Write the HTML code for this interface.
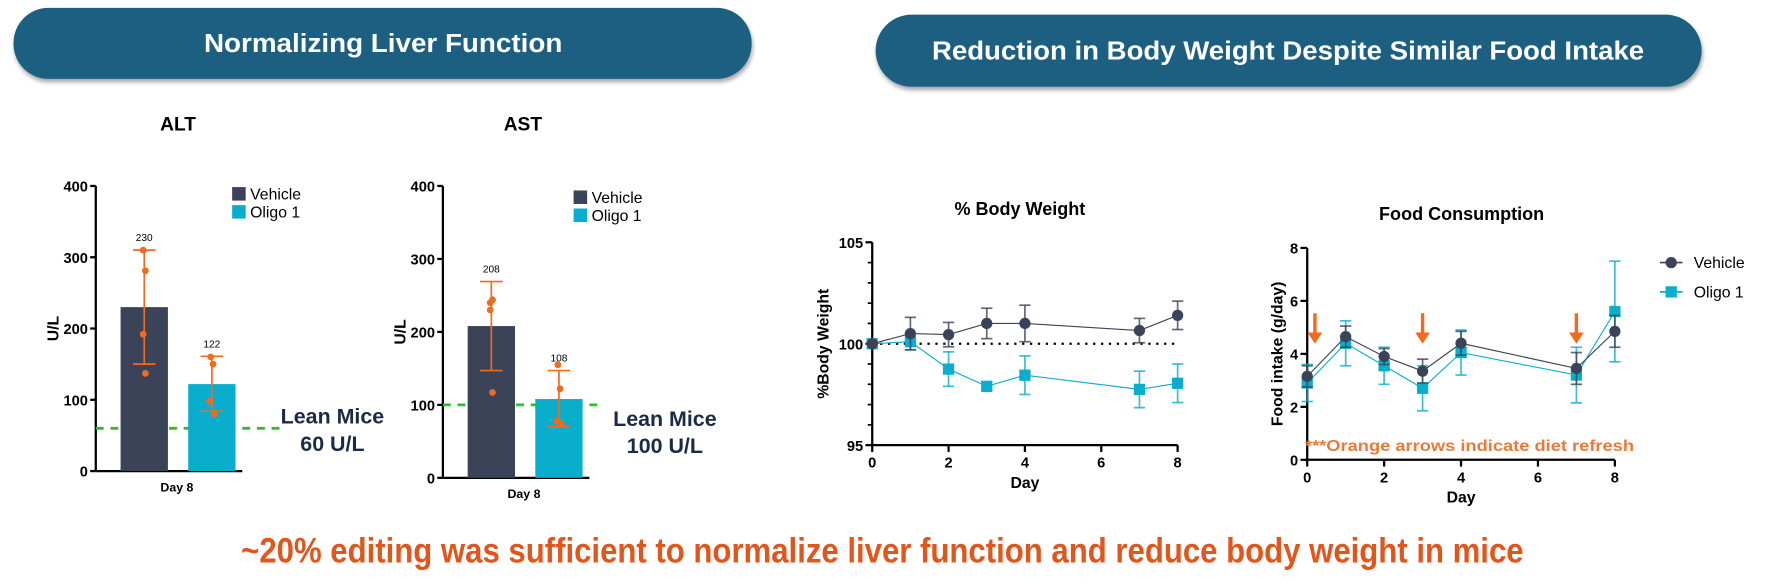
<!DOCTYPE html>
<html><head><meta charset="utf-8"><style>
html,body{margin:0;padding:0;background:#fff;}
svg{display:block;font-family:"Liberation Sans",sans-serif;}
</style></head><body>
<svg id="s" width="1767" height="584" viewBox="0 0 1568 518.2" preserveAspectRatio="none" xmlns="http://www.w3.org/2000/svg">
<defs><filter id="sh" x="-5%" y="-20%" width="110%" height="160%"><feDropShadow dx="1" dy="3" stdDeviation="2" flood-color="#000" flood-opacity="0.35"/></filter></defs>
<g>
<rect x="12" y="7" width="655" height="63" rx="31" fill="#1a5f80" filter="url(#sh)"/>
<text x="340" y="46" text-anchor="middle" fill="#fff" font-size="23" font-weight="bold" textLength="318" lengthAdjust="spacingAndGlyphs">Normalizing Liver Function</text>
</g>
<g>
<rect x="777" y="13" width="733" height="64" rx="32" fill="#1a5f80" filter="url(#sh)"/>
<text x="1143" y="53" text-anchor="middle" fill="#fff" font-size="23" font-weight="bold" textLength="632" lengthAdjust="spacingAndGlyphs">Reduction in Body Weight Despite Similar Food Intake</text>
</g>
<text x="783" y="499" text-anchor="middle" fill="#e0561c" font-size="31" font-weight="bold" textLength="1138" lengthAdjust="spacingAndGlyphs">~20% editing was sufficient to normalize liver function and reduce body weight in mice</text>
<g id="g"></g>
</svg>
<script>
// ALT data
const altMeans=[230,122];
const altErr=[[150,310],[84,161]];
const altPts=[[310,281,192,137],[160,150,98,80]];
// AST data
const astMeans=[208,108];
const astErr=[[147,269],[70,147]];
const astPts=[[240,244,230,117],[155,122,78,74]];
const barGroups=['Vehicle','Oligo 1'];
const yTicksBar=[0,100,200,300,400];
// Body weight
const days=[0,1,2,3,4,7,8];
const bwVeh=[100,100.5,100.45,101,101,100.65,101.4];
const bwVehErr=[0,0.8,0.6,0.75,0.9,0.6,0.7];
const bwOli=[100,100.1,98.75,97.9,98.45,97.75,98.05];
const bwOliErr=[0,0.4,0.85,0,0.95,0.9,0.95];
// Food
const fdVeh=[3.15,4.65,3.9,3.35,4.4,3.45,4.85];
const fdVehErr=[0.4,0.4,0.3,0.45,0.45,0.6,0.6];
const fdOli=[2.9,4.4,3.55,2.7,4.05,3.2,5.6];
const fdOliErr=[0.7,0.85,0.7,0.85,0.85,1.05,1.9];
const arrowDays=[0.2,3,7];
const xTicks=[0,2,4,6,8];

const NS='http://www.w3.org/2000/svg';
const G=document.getElementById('g');
function el(t,a,txt,p){const e=document.createElementNS(NS,t);for(const k in a)e.setAttribute(k,a[k]);if(txt!==undefined)e.textContent=txt;(p||G).appendChild(e);return e;}
const DARK='#3a4358',CYAN='#0aaecd',OR='#f26b1d';

function barChart(o){
  const g=el('g',{});
  
  
  const y=v=>o.y0-(v/400)*(o.y0-o.y400);
  let t=el('text',{x:o.tx,y:116,'text-anchor':'middle','font-size':17,'font-weight':'bold'},o.title,g);
  
  el('line',{x1:o.ax,y1:y(400),x2:o.ax,y2:y(0),stroke:'#000','stroke-width':2},g);
  el('line',{x1:o.ax,y1:y(0),x2:o.ax+130,y2:y(0),stroke:'#000','stroke-width':2},g);
  yTicksBar.forEach(v=>{el('line',{x1:o.ax-5,y1:y(v),x2:o.ax,y2:y(v),stroke:'#000','stroke-width':2},g);
    const tl=el('text',{x:o.ax-7,y:y(v)+5,'text-anchor':'end','font-size':13,'font-weight':'bold'},v,g);
    });
  const yl=el('text',{transform:`translate(${o.ax-33},${y(200)}) rotate(-90)`,'text-anchor':'middle','font-size':14,'font-weight':'bold'},'U/L',g);
  
  el('line',{x1:o.ax,y1:y(o.lean),x2:o.ax+o.leanW,y2:y(o.lean),stroke:'#2bbf2b','stroke-width':2.5,'stroke-dasharray':'7,6'},g);
  o.means.forEach((m,i)=>{
    const bx=o.ax+22+i*60, cx=bx+21;
    const b=el('rect',{x:bx,y:y(m),width:42,height:y(0)-y(m),fill:i?CYAN:DARK},g);
    
    const [lo,hi]=o.err[i];
    el('line',{x1:cx,y1:y(lo),x2:cx,y2:y(hi),stroke:OR,'stroke-width':1.5},g);
    [lo,hi].forEach(v=>el('line',{x1:cx-10,y1:y(v),x2:cx+10,y2:y(v),stroke:OR,'stroke-width':1.5},g));
    o.pts[i].forEach((p,j)=>{const c=el('circle',{cx:cx+(j%2?2:-2)*(i&&j>1?1:0.5),cy:y(p),r:3,fill:OR},g);
      });
    const vl=el('text',{x:cx,y:y(hi)-8,'text-anchor':'middle','font-size':9},m,g);
    
  });
  const xl=el('text',{x:o.ax+72,y:y(0)+18,'text-anchor':'middle','font-size':11,'font-weight':'bold'},'Day 8',g);
  
  barGroups.forEach((n,i)=>{el('rect',{x:o.lx,y:o.ly+i*16-6,width:12,height:12,fill:i?CYAN:DARK},g);
    const lt=el('text',{x:o.lx+16,y:o.ly+i*16+5,'font-size':14},n,g);
    });
  [['Lean Mice',0],[o.leanTxt,24]].forEach(([s,dy])=>{const lt=el('text',{x:o.lmx,y:o.lmy+dy,'text-anchor':'middle','font-size':19,'font-weight':'bold',fill:'#1a2b45'},s,g);
    });
}
barChart({name:'alt-chart',title:'ALT',tx:158,ax:85,y0:418,y400:165,means:altMeans,err:altErr,pts:altPts,lean:60,leanW:167,lx:206,ly:172,lmx:295,lmy:376,leanTxt:'60 U/L'});
barChart({name:'ast-chart',title:'AST',tx:464,ax:393,y0:424,y400:165,means:astMeans,err:astErr,pts:astPts,lean:100,leanW:143,lx:509,ly:175,lmx:590,lmy:378,leanTxt:'100 U/L'});

function lineChart(o){
  const g=el('g',{});
  
  
  const X=d=>o.x0+d*(o.x8-o.x0)/8;
  const Y=v=>o.yb-(v-o.ymin)/(o.ymax-o.ymin)*(o.yb-o.yt);
  const t=el('text',{x:o.tx,y:o.ty,'text-anchor':'middle','font-size':16,'font-weight':'bold'},o.title,g);
  
  el('line',{x1:o.x0,y1:o.yt,x2:o.x0,y2:o.yb,stroke:'#000','stroke-width':2},g);
  el('line',{x1:o.x0,y1:o.yb,x2:o.x8,y2:o.yb,stroke:'#000','stroke-width':2},g);
  o.minor.forEach(v=>el('line',{x1:o.x0-4,y1:Y(v),x2:o.x0,y2:Y(v),stroke:'#000','stroke-width':1.5},g));
  o.yt_.forEach(v=>{el('line',{x1:o.x0-6,y1:Y(v),x2:o.x0,y2:Y(v),stroke:'#000','stroke-width':2},g);
    const tl=el('text',{x:o.x0-8,y:Y(v)+5,'text-anchor':'end','font-size':13,'font-weight':'bold'},v,g);
    });
  xTicks.forEach(d=>{el('line',{x1:X(d),y1:o.yb,x2:X(d),y2:o.yb+6,stroke:'#000','stroke-width':2},g);
    const tl=el('text',{x:X(d),y:o.yb+20,'text-anchor':'middle','font-size':13,'font-weight':'bold'},d,g);
    });
  const xl=el('text',{x:(o.x0+o.x8)/2,y:o.yb+38,'text-anchor':'middle','font-size':14,'font-weight':'bold'},'Day',g);
  
  const yl=el('text',{transform:`translate(${o.ylx},${(o.yt+o.yb)/2}) rotate(-90)`,'text-anchor':'middle','font-size':14,'font-weight':'bold'},o.ylabel,g);
  
  if(o.ref!==undefined) el('line',{x1:o.x0,y1:Y(o.ref),x2:o.x8,y2:Y(o.ref),stroke:'#000','stroke-width':2,'stroke-dasharray':'2,5'},g);
  [[o.oli,o.oliE,CYAN,'oligo',1],[o.veh,o.vehE,DARK,'vehicle',0]].forEach(([vals,errs,c,n,sq])=>{
    const pl=el('polyline',{points:days.map((d,i)=>X(d)+','+Y(vals[i])).join(' '),fill:'none',stroke:c,'stroke-width':1},g);
    
    days.forEach((d,i)=>{const x=X(d);if(errs[i]>0){
      el('line',{x1:x,y1:Y(vals[i]-errs[i]),x2:x,y2:Y(vals[i]+errs[i]),stroke:c,'stroke-width':1.5,opacity:0.8},g);
      [-1,1].forEach(s=>el('line',{x1:x-5,y1:Y(vals[i]+s*errs[i]),x2:x+5,y2:Y(vals[i]+s*errs[i]),stroke:c,'stroke-width':1.5,opacity:0.8},g));}
      const m=sq?el('rect',{x:x-5,y:Y(vals[i])-5,width:10,height:10,fill:c},g):el('circle',{cx:x,cy:Y(vals[i]),r:5,fill:c},g);
      });
  });
  if(o.arrows) o.arrows.forEach(d=>{const x=X(d);const a=el('path',{d:`M${x-1.5},${278}h3v17h5l-6.5,10l-6.5,-10h5z`,fill:OR},g);
    });
}
lineChart({name:'body-weight-chart',title:'% Body Weight',tx:905,ty:191,x0:774,x8:1045,yt:215,yb:395,ymin:95,ymax:105,yt_:[95,100,105],minor:[96,97,98,99,101,102,103,104],ylabel:'%Body Weight',ylx:735,ref:100,veh:bwVeh,vehE:bwVehErr,oli:bwOli,oliE:bwOliErr});
lineChart({name:'food-chart',title:'Food Consumption',tx:1297,ty:195,x0:1160,x8:1433,yt:220,yb:408,ymin:0,ymax:8,yt_:[0,2,4,6,8],minor:[],ylabel:'Food intake (g/day)',ylx:1138,veh:fdVeh,vehE:fdVehErr,oli:fdOli,oliE:fdOliErr,arrows:arrowDays});

const note=el('text',{x:1158,y:400,'font-size':14,'font-weight':'bold',fill:'#ea7a3a',textLength:292,lengthAdjust:'spacingAndGlyphs'},'***Orange arrows indicate diet refresh');


[['Vehicle',0,DARK],['Oligo 1',1,CYAN]].forEach(([n,i,c])=>{const yy=233+i*26;
  el('line',{x1:1473,y1:yy,x2:1493,y2:yy,stroke:c,'stroke-width':1.5});
  if(i) el('rect',{x:1478,y:yy-5,width:10,height:10,fill:c}); else el('circle',{cx:1483,cy:yy,r:5,fill:c});
  const t=el('text',{x:1503,y:yy+5,'font-size':14},n);
  
  });
</script>
</body></html>
